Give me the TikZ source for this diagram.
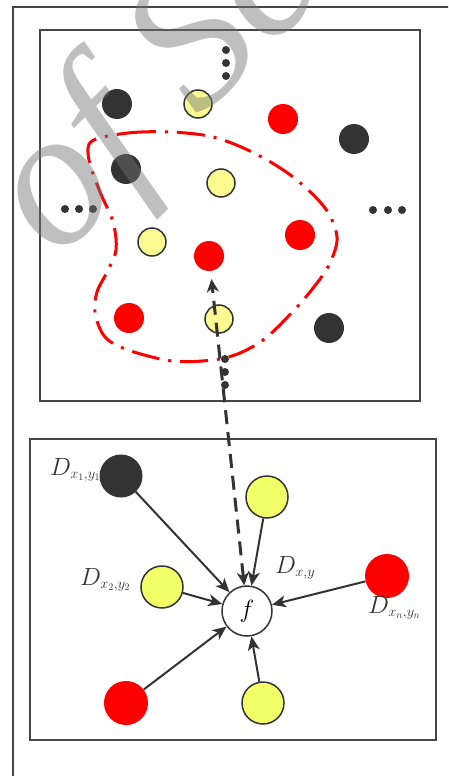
\documentclass[tikz,border=0pt]{standalone}
\usepackage{fontspec}
\usetikzlibrary{arrows.meta}
\newfontfamily\wmfont{Liberation Serif}
\DeclareMathSizes{24}{24}{14}{10}
\definecolor{dk}{RGB}{51,51,51}
\definecolor{fr}{RGB}{70,70,70}
\definecolor{yu}{RGB}{250,250,145}
\definecolor{yl}{RGB}{243,255,102}
\definecolor{rd}{RGB}{255,0,0}
\definecolor{wm}{RGB}{115,115,115}
\begin{document}
\begin{tikzpicture}[x=1pt,y=-1pt,
  frame/.style={draw=fr, line width=2pt},
  sdot/.style={circle, fill=dk, inner sep=0pt, minimum size=8pt},
  blk/.style={circle, fill=dk, inner sep=0pt, minimum size=#1},
  red/.style={circle, fill=rd, inner sep=0pt, minimum size=#1},
  yel/.style={circle, fill=yu, draw=dk, line width=1.5pt, inner sep=0pt, minimum size=#1},
  yelb/.style={circle, fill=yl, draw=dk, line width=1.5pt, inner sep=0pt, minimum size=#1},
  fnode/.style={circle, fill=white, draw=dk, line width=1.5pt, inner sep=0pt, minimum size=50pt, font=\fontsize{24}{24}\selectfont},
  arr/.style={draw=dk, line width=2pt, -{Stealth[length=14pt,width=12pt,inset=4pt]}},
  darr/.style={draw=dk, line width=3pt, dash pattern=on 14pt off 8pt, {Stealth[length=13pt,width=12pt,inset=4pt]}-{Stealth[length=13pt,width=12pt,inset=4pt]}},
  lab/.style={text=dk, inner sep=0pt, anchor=base west, font=\fontsize{24}{24}\selectfont},
  region/.style={draw=rd, line width=3pt, dash pattern=on 28pt off 9pt on 3pt off 9pt}
]
\useasboundingbox (0,0) rectangle (448,776);
\clip (0,0) rectangle (448,776);
\fill[white] (0,0) rectangle (448,776);

% frames
\draw[frame] (13,780) -- (13,7) -- (452,7);
\draw[frame] (40,30) rectangle (420,401);
\draw[frame] (30,439) rectangle (436,740);

% upper box dots
\node[sdot] (v1) at (226,50) {};
\node[sdot] (v2) at (226,63) {};
\node[sdot] (v3) at (226,76) {};
\node[sdot] (l1) at (65,209) {};
\node[sdot] (l2) at (79,209) {};
\node[sdot] (l3) at (93,209) {};
\node[sdot] (q1) at (373,210) {};
\node[sdot] (q2) at (388,210) {};
\node[sdot] (q3) at (402,210) {};
\node[sdot] (w1) at (225,359) {};
\node[sdot] (w2) at (225,372) {};
\node[sdot] (w3) at (225,385) {};

% upper box circles
\node[blk=30pt] (ub1) at (117,104) {};
\node[yel=28pt] (uy1) at (198,104) {};
\node[red=30pt] (ur1) at (283,119) {};
\node[blk=30pt] (ub2) at (354,139) {};
\node[blk=30pt] (ub3) at (126,169) {};
\node[yel=28pt] (uy2) at (221,183) {};
\node[yel=28pt] (uy3) at (152,242) {};
\node[red=30pt] (urc) at (209,256) {};
\node[red=30pt] (ur2) at (300,235) {};
\node[red=30pt] (ur3) at (129,318) {};
\node[yel=28pt] (uy4) at (219,319) {};
\node[blk=30pt] (ub4) at (329,328) {};

% neighbourhood region
\draw[region] plot[smooth cycle, tension=0.55] coordinates {
 (92,141) (128,133) (170,132) (213,137) (254,153) (293,177) (325,208)
 (337,237) (330,263) (317,283) (297,307) (267,337) (240,353) (213,360)
 (172,361) (128,350) (105,337) (95,313) (97,292) (107,272) (116,250)
 (113,222) (100,192) (89,160)};

% lower box
\node[fnode] (f) at (247,611) {$f$};
\node[blk=43pt] (b1) at (121,476) {};
\node[yelb=42pt] (y1) at (267,497) {};
\node[yelb=42pt] (y2) at (162,587) {};
\node[red=44pt] (rn) at (387,576) {};
\node[red=44pt] (rb) at (126,703) {};
\node[yelb=42pt] (yb) at (263,703) {};

\draw[arr] (b1) -- (f);
\draw[arr] (y1) -- (f);
\draw[arr] (y2) -- (f);
\draw[arr] (rn) -- (f);
\draw[arr] (rb) -- (f);
\draw[arr] (yb) -- (f);

\draw[darr, shorten >=8pt] (f) -- (urc);

\node[lab] (t1) at (50,475) {$D_{x_1,y_1}$};
\node[lab] (t2) at (80,585) {$D_{x_2,y_2}$};
\node[lab] (t3) at (275,573) {$D_{x,y}$};
\node[lab] (t4) at (368,613) {$D_{x_n,y_n}$};

% watermark
\node[rotate=45, anchor=base west, text=wm, text opacity=0.45, inner sep=0pt,
      font=\wmfont\itshape\fontsize{196}{196}\selectfont] (wmk) at (57,262) {of Sc};
\end{tikzpicture}
\end{document}
